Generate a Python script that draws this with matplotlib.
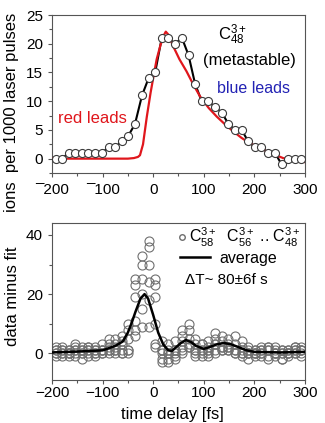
import matplotlib.pyplot as plt
from matplotlib.ticker import MultipleLocator
from matplotlib.lines import Line2D

plt.rcParams['font.family'] = ['Liberation Sans', 'DejaVu Sans']
plt.rcParams['mathtext.fontset'] = 'custom'
plt.rcParams['mathtext.rm'] = 'Liberation Sans'
plt.rcParams['mathtext.it'] = 'Liberation Sans'

# time delays (fs), top panel
t_top = [-193, -180, -167, -154, -141, -128, -114, -101, -88, -75, -62, -49, -36, -22, -9, 4,
         17, 30, 43, 57, 70, 83, 96, 109, 122, 136, 149, 162, 175, 188, 201, 214, 227, 241,
         254, 267, 280, 293]
c48_meta = [0, 0, 1, 1, 1, 1, 1, 1, 2, 2, 3, 4, 6, 11, 14, 15,
            21, 21, 20, 21, 18, 13, 10, 10, 9, 8, 6, 5, 5, 3, 2, 2, 1, 1,
            -1, 0, 0, 0]

# red model curve
t_fit = [-200, -100, -50, -38, -30, -26, -20, -12.5, -5, 0.7, 7, 14, 20, 25, 30, 40, 52, 66,
         80, 93, 110, 126, 143, 159, 175, 191, 208, 224, 240, 257, 280, 300]
fit = [0, 0, 0, 0.1, 0.3, 0.6, 2.5, 7.3, 11.5, 14.3, 17.3, 19.6, 21.3, 22.1, 21.6, 19.5, 17.3, 15.2,
       12.8, 10.8, 8.8, 7.3, 5.9, 4.7, 3.6, 2.7, 2.0, 1.3, 0.7, 0.1, -0.3, -0.6]

# bottom panel: data minus fit for several sizes
t_bot = t_top
res_a = [1, 2, 1, 3, 2, 2, 2, 1, 5, 5, 6, 10, 25, 33, 38, 25,
         4, 3, 4, 8, 10, 5, 3, 4, 7, 6, 5, 6, 4, 2, 1, 2, 2, 2,
         1, 1, 2, 2]
res_b = [0, 0, 0, 1, 0, 1, 0, 0, 3, 3, 4, 8, 23, 30, 36, 23,
         1, 0, 1, 6, 8, 3, 1, 2, 5, 4, 3, 3, 2, 0, 0, 0, 1, 0,
         0, 0, 1, 1]
res_c = [-1, -1, -1, 0, -2, 0, -1, 3, 1, 1, 1, 5, 19, 25, 30, 19,
         -2, -2, -1, 4, 5, 1, -1, 0, 3, 2, 1, 1, 0, -2, -1, -1, -1, -1,
         -2, -1, 0, -1]
res_d = [2, 1, 0, -1, 0, -1, 1, 0, 0, 0, 0, 1, 11, 20, 24, 10,
         -3, -3, -2, 2, 3, -1, 3, -1, 0, 1, 1, 0, -1, 0, 1, 0, -2, 0,
         -2, 0, 0, 0]
res_e = [0, 1, 1, 1, 1, 2, 0, 1, 2, 2, 3, 1, 8, 15, 18, 3,
         1, 1, 1, 0, 2, 1, 1, 1, 3, 2, 2, 0, 1, 1, 0, 1, 2, 1,
         1, 1, 2, 1]
res_f = [1, 0, 0, 2, 1, 1, 1, 1, 1, 1, 0, 0, 6, 9, 9, 2,
         0, 0, 0, 1, 2, 0, 0, 1, 1, 1, 2, 1, 0, 0, 0, 1, 1, 0,
         0, 0, 1, 1]
residuals = [res_a, res_b, res_c, res_d, res_e, res_f]

t_avg = [-200, -150, -100, -75, -60, -50, -42, -35, -25, -17, -10, 0, 10, 20, 30, 37, 45, 55,
         65, 75, 85, 100, 110, 125, 140, 155, 170, 185, 200, 250, 300]
avg = [0.3, 0.6, 1.0, 2.5, 4.0, 7.0, 10.5, 14.0, 18.5, 20.0, 18.5, 13.0, 7.0, 3.0, 1.0, 0.8, 2.0, 3.5,
       4.5, 3.8, 2.5, 1.5, 2.0, 3.0, 3.5, 3.0, 2.0, 1.0, 0.5, 0.3, 0.5]

fig = plt.figure(figsize=(3.25, 4.23), dpi=100)
ax1 = fig.add_axes([0.16, 0.591, 0.778, 0.3735])
ax2 = fig.add_axes([0.16, 0.1017, 0.778, 0.371])

# top panel
ax1.plot(t_top, c48_meta, color='black', lw=1.5, zorder=2)
ax1.plot(t_fit, fit, color='#e0161c', lw=1.6, zorder=3)
ax1.plot(t_top, c48_meta, 'o', ms=5.8, mfc='white', mec='#3a3a3a', mew=0.8, zorder=4)
ax1.set_xlim(-200, 300)
ax1.set_ylim(-2.5, 25)
ax1.yaxis.set_major_locator(MultipleLocator(5))
ax1.yaxis.set_minor_locator(MultipleLocator(2.5))
ax1.xaxis.set_major_locator(MultipleLocator(100))
ax1.xaxis.set_minor_locator(MultipleLocator(50))
ax1.set_xticks([-200, -100, 0, 100, 200, 300])
ax1.set_xticklabels(['\u00af200', '\u00af100', '0', '100', '200', '300'])
ax1.text(0.656, 0.873, r'C$_{48}^{3+}$', transform=ax1.transAxes, fontsize=12, va='center')
ax1.text(0.597, 0.715, '(metastable)', transform=ax1.transAxes, fontsize=12, va='center')
ax1.text(0.652, 0.538, 'blue leads', transform=ax1.transAxes, fontsize=11.5, va='center',
         color='#2323b4')
ax1.text(0.024, 0.348, 'red leads', transform=ax1.transAxes, fontsize=12, va='center',
         color='#e0161c')

# bottom panel
for r in residuals:
    ax2.plot(t_bot, r, 'o', ms=6.5, mfc='none', mec='#707070', mew=0.8, zorder=2)
ax2.plot(t_avg, avg, color='black', lw=1.8, zorder=3)
ax2.set_xlim(-200, 300)
ax2.set_ylim(-9, 44)
ax2.yaxis.set_major_locator(MultipleLocator(20))
ax2.yaxis.set_minor_locator(MultipleLocator(10))
ax2.xaxis.set_major_locator(MultipleLocator(100))
ax2.xaxis.set_minor_locator(MultipleLocator(50))

h1 = Line2D([], [], ls='none', marker='o', ms=4, mfc='none', mec='#6e6e6e')
leg1 = ax2.legend([h1], [r'C$_{58}^{3+}$  C$_{56}^{3+}$ .. C$_{48}^{3+}$'], loc='center left',
                  frameon=False, handlelength=0.5, handletextpad=0.2, fontsize=11.5,
                  borderaxespad=0.0, borderpad=0.0, bbox_to_anchor=(0.498, 0.91))
ax2.add_artist(leg1)
h2 = Line2D([], [], color='black', lw=1.8)
ax2.legend([h2], ['average'], loc='center left', frameon=False, handlelength=1.9,
           handletextpad=0.6, fontsize=11.5, borderaxespad=0.0, borderpad=0.0,
           bbox_to_anchor=(0.506, 0.777))
ax2.text(0.526, 0.637, '\u0394T~ 80\u00b16f s', transform=ax2.transAxes, fontsize=11, va='center')

for ax in (ax1, ax2):
    ax.tick_params(labelsize=11, length=3, width=0.8, color='#555555')
    ax.tick_params(which='minor', length=2, width=0.8, color='#555555')
    for s in ax.spines.values():
        s.set_color('#555555')
        s.set_linewidth(0.8)
ax2.tick_params(axis='x', pad=1.5)
ax1.tick_params(axis='x', pad=4)

fig.text(0.035, 0.735, 'ions  per 1000 laser pulses', rotation=90, ha='center', va='center', fontsize=12)
fig.text(0.04, 0.30, 'data minus fit', rotation=90, ha='center', va='center', fontsize=12)
fig.text(0.53, 0.021, 'time delay [fs]', ha='center', va='center', fontsize=12)

fig.savefig('out.png', dpi=100)
